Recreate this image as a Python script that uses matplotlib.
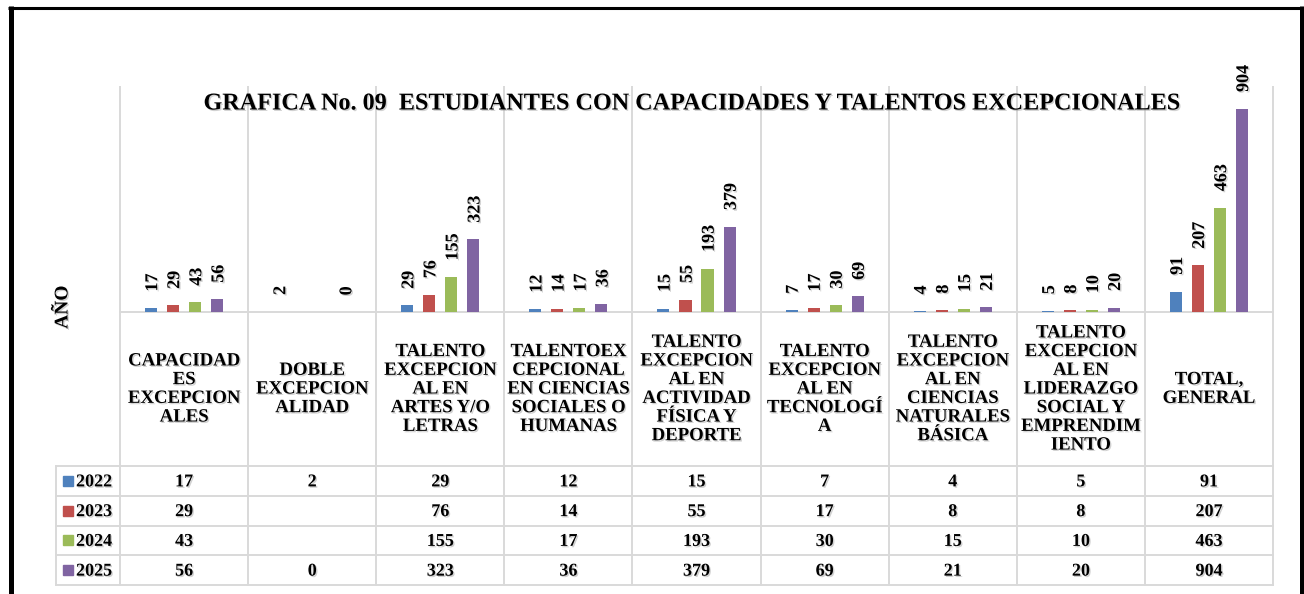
import numpy as np
import matplotlib
matplotlib.use("Agg")
import matplotlib.pyplot as plt
import matplotlib.patheffects as pe
from matplotlib.patches import Rectangle

plt.rcParams['font.family'] = ['Liberation Serif', 'DejaVu Serif']
plt.rcParams['font.weight'] = 'bold'

# datos
categorias = [
    "CAPACIDAD\nES\nEXCEPCION\nALES",
    "DOBLE\nEXCEPCION\nALIDAD",
    "TALENTO\nEXCEPCION\nAL EN\nARTES Y/O\nLETRAS",
    "TALENTOEX\nCEPCIONAL\nEN CIENCIAS\nSOCIALES O\nHUMANAS",
    "TALENTO\nEXCEPCION\nAL EN\nACTIVIDAD\nFÍSICA Y\nDEPORTE",
    "TALENTO\nEXCEPCION\nAL EN\nTECNOLOGÍ\nA",
    "TALENTO\nEXCEPCION\nAL EN\nCIENCIAS\nNATURALES\nBÁSICA",
    "TALENTO\nEXCEPCION\nAL EN\nLIDERAZGO\nSOCIAL Y\nEMPRENDIM\nIENTO",
    "TOTAL,\nGENERAL",
]
anios = ["2022", "2023", "2024", "2025"]
v2022 = [17, 2, 29, 12, 15, 7, 4, 5, 91]
v2023 = [29, None, 76, 14, 55, 17, 8, 8, 207]
v2024 = [43, None, 155, 17, 193, 30, 15, 10, 463]
v2025 = [56, 0, 323, 36, 379, 69, 21, 20, 904]
series = [v2022, v2023, v2024, v2025]
colores = ['#4F81BD', '#C0504D', '#9BBB59', '#8064A2']
titulo = "GRAFICA No. 09  ESTUDIANTES CON CAPACIDADES Y TALENTOS EXCEPCIONALES"

W, H = 1304, 594
GRIS = '#D9D9D9'
sombra = [pe.withSimplePatchShadow(offset=(1.0, -1.0), shadow_rgbFace='#999999', alpha=0.45)]

fig = plt.figure(figsize=(W / 100, H / 100), dpi=100)

# zona de barras
x_izq, x_der, y_top, y_base = 120, 1273, 87, 312
ax = fig.add_axes([x_izq / W, 1 - y_base / H, (x_der - x_izq) / W, (y_base - y_top) / H])
ax.set_xlim(0, len(categorias))
ax.set_ylim(0, 1000)
ax.axis('off')

ancho = 0.094
paso = 0.172
for j, (vals, col) in enumerate(zip(series, colores)):
    for i, v in enumerate(vals):
        if v is None:
            continue
        x = i + 0.5 + (j - 1.5) * paso
        ax.bar(x, v, width=ancho, color=col, zorder=3)
        ax.annotate(str(v), (x, v), xytext=(1.2, 12), textcoords='offset points',
                    rotation=90, ha='center', va='bottom', fontsize=13,
                    fontweight='bold', path_effects=sombra)

# capa en pixeles para tabla y marco
ov = fig.add_axes([0, 0, 1, 1], zorder=-1)
ov.set_xlim(0, W)
ov.set_ylim(H, 0)
ov.axis('off')

bordes_x = np.linspace(x_izq, x_der, len(categorias) + 1)
centros_x = (bordes_x[:-1] + bordes_x[1:]) / 2
filas_y = [466, 495.75, 525.5, 555.25, 585]
lw = 1.4

for bx in bordes_x:
    ov.plot([bx, bx], [y_top, filas_y[-1]], color=GRIS, lw=lw)
ov.plot([56, 56], [filas_y[0], filas_y[-1]], color=GRIS, lw=lw)
ov.plot([x_izq, x_der], [y_base, y_base], color=GRIS, lw=lw)
for fy in filas_y:
    ov.plot([56, x_der], [fy, fy], color=GRIS, lw=lw)

# encabezados de categoria
for cx, cat in zip(centros_x, categorias):
    ov.text(cx, 389, cat, ha='center', va='center', fontsize=13.5,
            linespacing=1.13, path_effects=sombra)

# filas de datos
for k, (anio, vals, col) in enumerate(zip(anios, series, colores)):
    yc = (filas_y[k] + filas_y[k + 1]) / 2
    ov.add_patch(Rectangle((63, yc - 5), 10, 10, color=col))
    ov.text(76, yc + 1, anio, ha='left', va='center', fontsize=13, path_effects=sombra)
    for cx, v in zip(centros_x, vals):
        if v is None:
            continue
        ov.text(cx, yc + 1, str(v), ha='center', va='center', fontsize=13,
                path_effects=sombra)

ov.text(63, 307, "AÑO", rotation=90, ha='center', va='center', fontsize=14,
        path_effects=sombra)
ov.text(690, 104, titulo, ha='center', va='center', fontsize=17.4, path_effects=sombra)

# marco negro
ov.plot([10.5, 10.5], [6, H], color='black', lw=3.6, solid_capstyle='butt')
ov.plot([8, 1304], [7.5, 7.5], color='black', lw=2.2, solid_capstyle='butt')
ov.plot([1301.5, 1301.5], [6, H], color='black', lw=3.6, solid_capstyle='butt')

fig.savefig('out.png', dpi=100)
